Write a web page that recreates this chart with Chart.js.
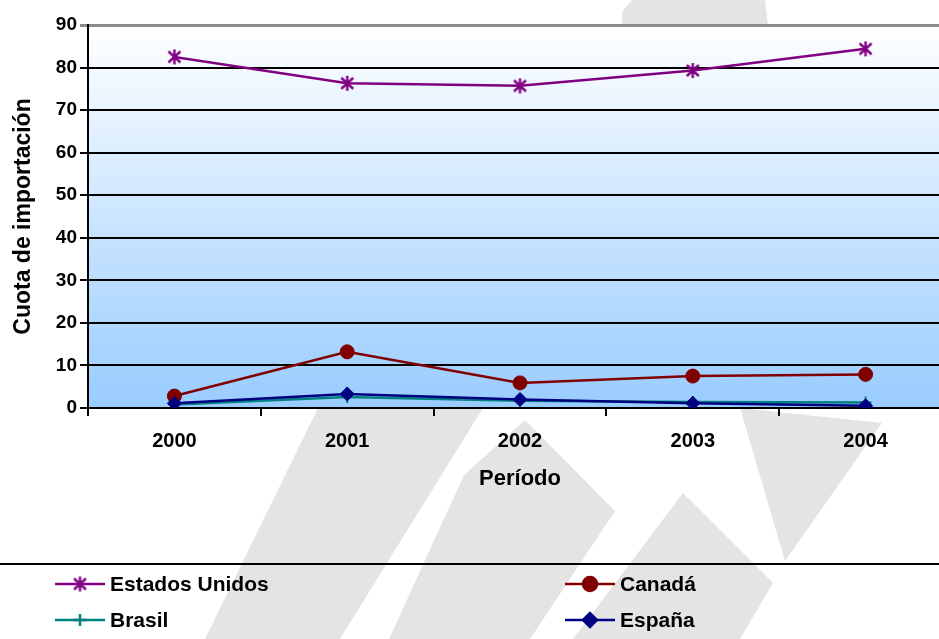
<!DOCTYPE html>
<html>
<head>
<meta charset="utf-8">
<script src="https://cdn.jsdelivr.net/npm/chart.js@4"></script>
<style>
  html, body { margin: 0; padding: 0; background: #fff; overflow: hidden; }
  canvas { display: block; }
</style>
</head>
<body>
<canvas id="myChart" width="962" height="639"></canvas>
<script>
const years = ['2000', '2001', '2002', '2003', '2004'];
const estadosUnidos = [82.5, 76.3, 75.7, 79.3, 84.4];
const canada = [2.8, 13.2, 5.9, 7.5, 7.9];
const brasil = [0.8, 2.6, 1.7, 1.4, 1.3];
const espana = [1.1, 3.3, 2.0, 1.1, 0.5];
const seriesNames = ['Estados Unidos', 'Canadá', 'Brasil', 'España'];

const FONT = "'Liberation Sans', Arial, sans-serif";

// asterisco tipo Excel (vertical + X)
function makeStar(color) {
    const c = document.createElement('canvas');
    c.width = 17; c.height = 17;
    const g = c.getContext('2d');
    g.strokeStyle = color;
    g.lineWidth = 2.4;
    g.beginPath();
    g.moveTo(8.5, 1); g.lineTo(8.5, 16);
    g.moveTo(2.5, 3); g.lineTo(14.5, 14);
    g.moveTo(14.5, 3); g.lineTo(2.5, 14);
    g.stroke();
    return c;
}
const starImg = makeStar('#800080');

// marca de agua gris del fondo
const watermark = {
    id: 'watermark',
    beforeDraw(chart) {
        const c = chart.ctx;
        const shapes = [
            [[318, 408], [483, 408], [340, 639], [205, 639]],
            [[525, 420], [615, 511], [530, 639], [389, 639], [464, 475]],
            [[683, 493], [773, 583], [740, 639], [573, 639]],
            [[740, 408], [882, 423], [785, 561]],
            [[632, 0], [765, 0], [768, 26], [622, 26], [622, 12]]
        ];
        c.save();
        c.fillStyle = '#e4e4e4';
        shapes.forEach(s => {
            c.beginPath();
            s.forEach((p, i) => i ? c.lineTo(p[0], p[1]) : c.moveTo(p[0], p[1]));
            c.closePath();
            c.fill();
        });
        const a = chart.chartArea;
        const grad = c.createLinearGradient(0, a.top, 0, a.bottom);
        grad.addColorStop(0, '#ffffff');
        grad.addColorStop(1, '#99ccff');
        c.fillStyle = grad;
        c.fillRect(a.left, a.top, a.right - a.left, a.bottom - a.top);
        c.restore();
    }
};

// leyenda en dos columnas bajo una línea
const customLegend = {
    id: 'customLegend',
    afterDraw(chart) {
        const c = chart.ctx;
        c.save();
        c.strokeStyle = '#000';
        c.lineWidth = 2;
        c.beginPath();
        c.moveTo(0, 564); c.lineTo(962, 564);
        c.stroke();
        const cols = [55, 565], rows = [584, 620];
        chart.data.datasets.forEach((ds, i) => {
            const x = cols[i % 2], y = rows[Math.floor(i / 2)];
            c.strokeStyle = ds.borderColor;
            c.lineWidth = 2.5;
            c.beginPath();
            c.moveTo(x, y); c.lineTo(x + 50, y);
            c.stroke();
            c.fillStyle = ds.pointBackgroundColor;
            c.strokeStyle = ds.pointBorderColor;
            Chart.helpers.drawPoint(c, {
                pointStyle: ds.pointStyle, radius: ds.pointRadius,
                rotation: 0, borderWidth: ds.pointBorderWidth
            }, x + 25, y);
            c.fillStyle = '#000';
            c.font = 'bold 21px ' + FONT;
            c.textAlign = 'left';
            c.textBaseline = 'middle';
            c.fillText(ds.label, x + 55, y + 1);
        });
        c.restore();
    }
};

const ctx = document.getElementById('myChart').getContext('2d');
const myChart = new Chart(ctx, {
    type: 'line',
    data: {
        labels: years,
        datasets: [
            {
                label: seriesNames[0], data: estadosUnidos, order: 4,
                borderColor: '#800080', pointStyle: starImg, pointRadius: 8,
                pointBackgroundColor: '#800080', pointBorderColor: '#800080', pointBorderWidth: 2
            },
            {
                label: seriesNames[1], data: canada, order: 3,
                borderColor: '#800000', pointStyle: 'circle', pointRadius: 7,
                pointBackgroundColor: '#800000', pointBorderColor: '#800000', pointBorderWidth: 1
            },
            {
                label: seriesNames[2], data: brasil, order: 2,
                borderColor: '#008080', pointStyle: 'cross', pointRadius: 6,
                pointBackgroundColor: '#008080', pointBorderColor: '#008080', pointBorderWidth: 2
            },
            {
                label: seriesNames[3], data: espana, order: 1,
                borderColor: '#000080', pointStyle: 'rectRot', pointRadius: 7,
                pointBackgroundColor: '#000080', pointBorderColor: '#000080', pointBorderWidth: 1
            }
        ]
    },
    options: {
        responsive: false,
        animation: false,
        elements: { line: { borderWidth: 2.5, tension: 0 } },
        layout: { padding: { top: 25, bottom: 147, left: 0, right: 0 } },
        scales: {
            x: {
                offset: true,
                grid: { drawOnChartArea: false, drawTicks: true, tickLength: 8, color: '#000', lineWidth: 2, offset: true },
                border: { color: '#000', width: 2 },
                ticks: { color: '#000', padding: 13, font: { family: FONT, size: 20, weight: 'bold' } },
                title: { display: true, text: 'Período', color: '#000', padding: { top: 0, bottom: 0 },
                         font: { family: FONT, size: 22, weight: 'bold' } },
                afterFit(scale) { scale.height = 84; }
            },
            y: {
                min: 0, max: 90,
                grid: {
                    color: c => c.tick && c.tick.value === 90 ? '#8c8c8c' : '#000',
                    lineWidth: c => c.tick && c.tick.value === 90 ? 3 : 2,
                    tickLength: 8
                },
                border: { color: '#000', width: 2 },
                ticks: { stepSize: 10, color: '#000', padding: 3, font: { family: FONT, size: 19, weight: 'bold' } },
                title: { display: true, text: 'Cuota de importación', color: '#000', padding: { top: 10, bottom: 0 },
                         font: { family: FONT, size: 23, weight: 'bold' } },
                afterFit(scale) { scale.width = 88; }
            }
        },
        plugins: {
            legend: { display: false },
            tooltip: { enabled: false }
        }
    },
    plugins: [watermark, customLegend]
});
</script>
</body>
</html>
